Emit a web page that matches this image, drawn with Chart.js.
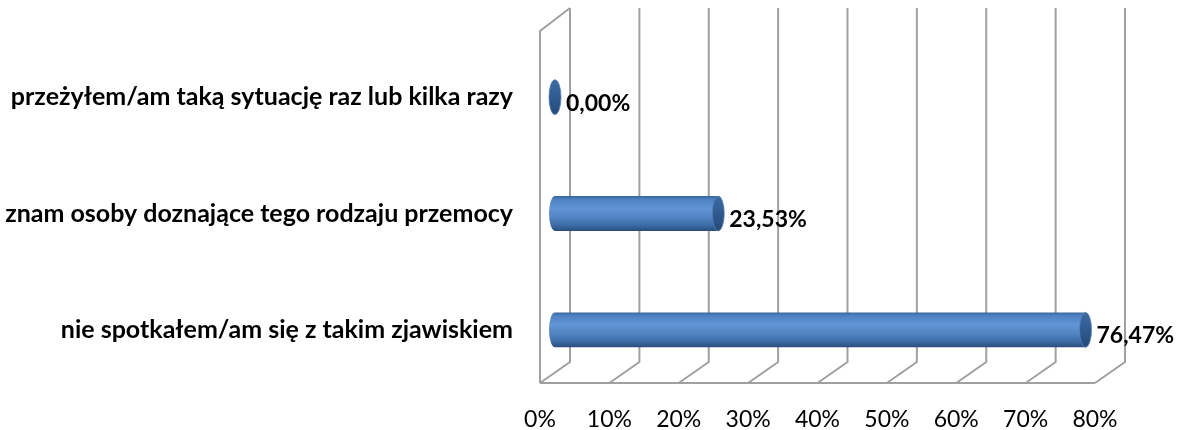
<!DOCTYPE html>
<html>
<head>
<meta charset="utf-8">
<script src="https://cdn.jsdelivr.net/npm/chart.js@4/dist/chart.umd.min.js"></script>
<style>
  html, body { margin: 0; padding: 0; background: #ffffff; }
  #wrap { width: 1184px; height: 430px; }
</style>
</head>
<body>
<div id="wrap"><canvas id="c" width="1184" height="430"></canvas></div>
<script>
// ---- data ----
const categories = [
  "przeżyłem/am taką sytuację raz lub kilka razy",
  "znam osoby doznające tego rodzaju przemocy",
  "nie spotkałem/am się z takim zjawiskiem"
];
const values = [0.00, 23.53, 76.47];
const axisMin = 0;
const axisMax = 80;
const axisStep = 10;

// ---- styling / geometry (not data) ----
const DEPTH_DX = 15;   // half depth offset (x)
const GRID_COLOR = '#a0a0a0';

function fmt(v) { return v.toFixed(2).replace('.', ',') + '%'; }

function bodyGradient(ctx, y, h) {
  const g = ctx.createLinearGradient(0, y - h / 2, 0, y + h / 2);
  g.addColorStop(0.00, '#3a659c');
  g.addColorStop(0.10, '#4e82c2');
  g.addColorStop(0.35, '#6295d4');
  g.addColorStop(0.60, '#5385c4');
  g.addColorStop(0.85, '#3b69a3');
  g.addColorStop(1.00, '#2a4d7b');
  return g;
}
function capGradient(ctx, y, h) {
  const g = ctx.createLinearGradient(0, y - h / 2, 0, y + h / 2);
  g.addColorStop(0.0, '#3d6aa2');
  g.addColorStop(0.5, '#2f5b8f');
  g.addColorStop(1.0, '#264a78');
  return g;
}

const wallsPlugin = {
  id: 'walls',
  beforeDatasetsDraw(chart) {
    const ctx = chart.ctx;
    const xs = chart.scales.x;
    const a = chart.chartArea;
    const backTop = a.top - 31, backBottom = a.bottom - 26;
    const frontTop = a.top - 8, frontBottom = a.bottom - 5;
    ctx.save();
    ctx.strokeStyle = GRID_COLOR;
    ctx.lineWidth = 2;
    ctx.lineCap = 'butt';
    ctx.lineJoin = 'miter';
    for (let v = axisMin; v <= axisMax; v += axisStep) {
      const xm = xs.getPixelForValue(v);
      const xb = xm + DEPTH_DX, xf = xm - DEPTH_DX;
      ctx.beginPath();
      ctx.moveTo(xb, backTop);
      ctx.lineTo(xb, backBottom);
      ctx.lineTo(xf, frontBottom);
      ctx.stroke();
    }
    const x0 = xs.getPixelForValue(axisMin), x1 = xs.getPixelForValue(axisMax);
    ctx.beginPath();
    ctx.moveTo(x0 - DEPTH_DX, frontBottom);
    ctx.lineTo(x1 - DEPTH_DX, frontBottom);
    ctx.stroke();
    ctx.beginPath();
    ctx.moveTo(x0 - DEPTH_DX, frontBottom);
    ctx.lineTo(x0 - DEPTH_DX, frontTop);
    ctx.lineTo(x0 + DEPTH_DX, backTop);
    ctx.stroke();
    ctx.restore();
  },
  afterDatasetsDraw(chart) {
    const ctx = chart.ctx;
    const meta = chart.getDatasetMeta(0);
    ctx.save();
    meta.data.forEach((el, i) => {
      const p = el.getProps(['x', 'y', 'base', 'height'], true);
      const h = p.height, rx = 6, ry = h / 2;
      ctx.beginPath();
      ctx.ellipse(p.base, p.y, rx, ry, 0, Math.PI / 2, Math.PI * 1.5);
      ctx.closePath();
      ctx.fillStyle = bodyGradient(ctx, p.y, h);
      ctx.fill();
      ctx.beginPath();
      ctx.ellipse(p.x, p.y, rx, ry, 0, 0, Math.PI * 2);
      ctx.fillStyle = capGradient(ctx, p.y, h);
      ctx.fill();
      ctx.lineWidth = 1;
      ctx.strokeStyle = 'rgba(90,130,185,0.8)';
      ctx.stroke();
      ctx.fillStyle = '#000000';
      ctx.font = 'bold 23px Lato';
      ctx.textAlign = 'left';
      ctx.textBaseline = 'middle';
      ctx.fillText(fmt(values[i]), p.x + rx + 5, p.y + 6);
    });
    ctx.restore();
  }
};

new Chart(document.getElementById('c'), {
  type: 'bar',
  data: {
    labels: categories,
    datasets: [{
      data: values,
      backgroundColor: (c) => {
        const chart = c.chart;
        if (!chart.chartArea || !chart.scales.y) return '#5084c4';
        const ys = chart.scales.y;
        const y = ys.getPixelForValue(c.dataIndex);
        const h = ys.getPixelForTick(1) - ys.getPixelForTick(0);
        return bodyGradient(chart.ctx, y, Math.abs(h) * 0.3);
      },
      borderWidth: 0,
      categoryPercentage: 0.3,
      barPercentage: 1.0
    }]
  },
  options: {
    indexAxis: 'y',
    responsive: false,
    maintainAspectRatio: false,
    animation: false,
    devicePixelRatio: 1,
    layout: { padding: { top: 39, right: 74, left: 0, bottom: 0 } },
    plugins: { legend: { display: false }, tooltip: { enabled: false } },
    scales: {
      x: {
        min: axisMin, max: axisMax,
        ticks: {
          stepSize: axisStep,
          callback: (v) => v + '%',
          labelOffset: -DEPTH_DX,
          padding: 18,
          maxRotation: 0,
          autoSkip: false,
          color: '#000000',
          font: { family: 'Lato', size: 23 }
        },
        grid: { display: false, drawTicks: false },
        border: { display: false },
        afterFit: (s) => { s.height = 42; s.paddingLeft = 0; s.paddingRight = 0; }
      },
      y: {
        ticks: {
          padding: 42,
          color: '#000000',
          font: { family: 'Lato', size: 25, weight: 'bold' }
        },
        grid: { display: false, drawTicks: false },
        border: { display: false },
        afterFit: (s) => { s.width = 555; s.paddingTop = 0; s.paddingBottom = 0; }
      }
    }
  },
  plugins: [wallsPlugin]
});
</script>
</body>
</html>
